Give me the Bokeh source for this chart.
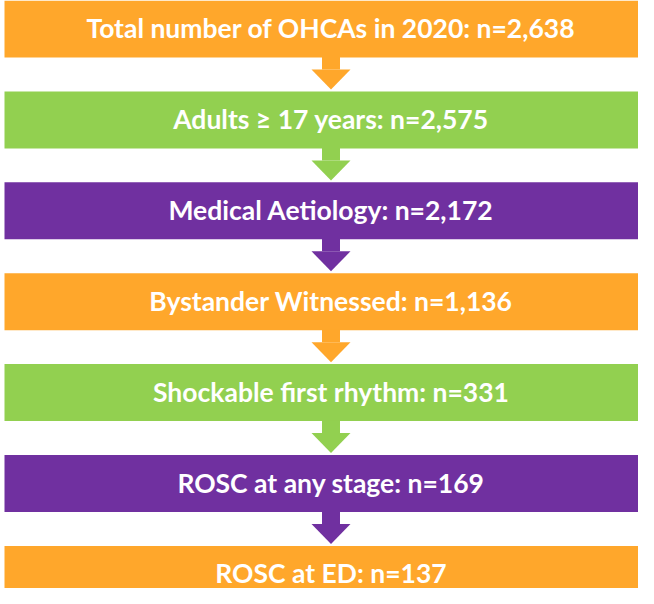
from bokeh.plotting import figure
from bokeh.models import Range1d, ColumnDataSource
from bokeh.core.properties import value
from bokeh.embed import file_html
from bokeh.resources import INLINE

labels = [
    "Total number of OHCAs in 2020: n=2,638",
    "Adults \u2265 17 years: n=2,575",
    "Medical Aetiology: n=2,172",
    "Bystander Witnessed: n=1,136",
    "Shockable first rhythm: n=331",
    "ROSC at any stage: n=169",
    "ROSC at ED: n=137",
]
colors = ["#FFA72B", "#92D050", "#7030A0", "#FFA72B", "#92D050", "#7030A0", "#FFA72B"]

W, H = 638, 588
step = 90.9
box_h = 57
box_left = 4
box_right = 660
cx = 330.5

p = figure(width=W, height=H, output_backend="svg", toolbar_location=None,
           x_range=Range1d(0, W), y_range=Range1d(H, 0), min_border=0)
p.axis.visible = False
p.grid.visible = False
p.outline_line_color = None
p.background_fill_color = "white"

tops = [i * step for i in range(len(labels))]
bottoms = [t + box_h for t in tops]
mids = [t + box_h / 2 - 1 for t in tops]

src = ColumnDataSource(dict(top=tops, bottom=bottoms, mid=mids, color=colors, label=labels,
                            left=[box_left] * len(labels), right=[box_right] * len(labels),
                            x=[cx] * len(labels)))
p.quad(left="left", right="right", top="top", bottom="bottom", source=src,
       fill_color="color", line_color=None)
p.text(x="x", y="mid", text="label", source=src, text_color="white",
       text_font=value("Lato"), text_font_style="bold", text_font_size="26.5px",
       text_align="center", text_baseline="middle")

# arrows between boxes
shaft_w = 18
head_hw = 19.5
shaft_len = 12
head_len = 20
for i in range(len(labels) - 1):
    b = bottoms[i]
    p.quad(left=cx - shaft_w / 2, right=cx + shaft_w / 2, top=b - 0.5, bottom=b + shaft_len,
           fill_color=colors[i], line_color=None)
    p.patch(x=[cx - head_hw, cx + head_hw, cx],
            y=[b + shaft_len, b + shaft_len, b + shaft_len + head_len],
            fill_color=colors[i], line_color=None)

open("out.html", "w").write(file_html(p, INLINE))
